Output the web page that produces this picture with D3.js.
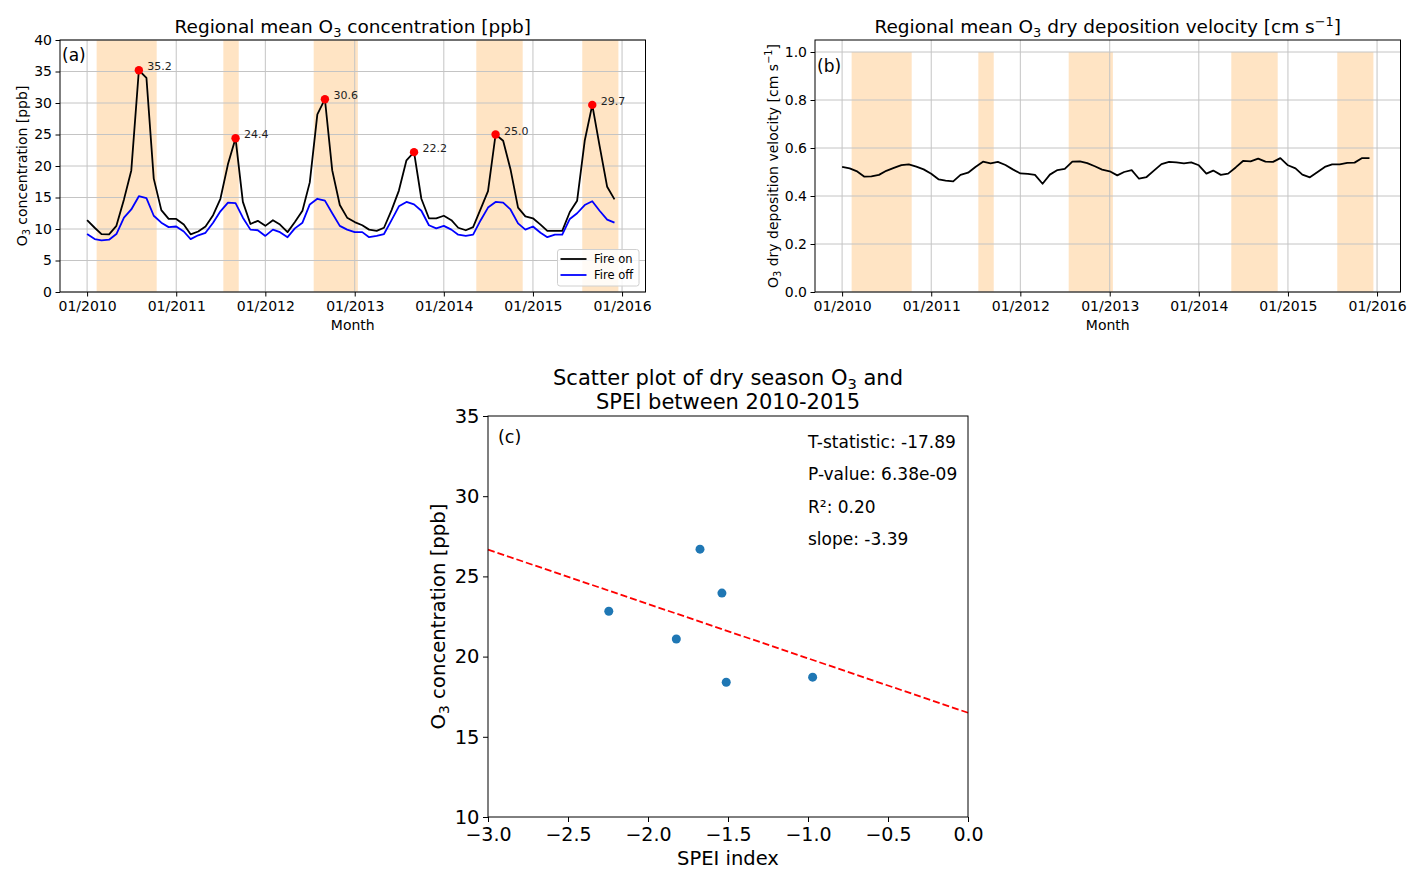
<!DOCTYPE html>
<html>
<head>
<meta charset="utf-8">
<script src="https://cdnjs.cloudflare.com/ajax/libs/d3/7.8.5/d3.min.js"></script>
<style>
  body { margin: 0; background: #fff; }
  svg { display: block; font-family: "DejaVu Sans", sans-serif; }
</style>
</head>
<body>
<svg id="fig" width="1422" height="881"></svg>
<script>
// ------------------------------------------
// data
// ------------------------------------------
const months = d3.timeMonth.range(new Date(2010, 0, 1), new Date(2016, 0, 1));
const yearTicks = d3.timeYear.range(new Date(2010, 0, 1), new Date(2016, 0, 2));

// regional mean O3, fire on / fire off [ppb]
const fireOn = [
  11.4, 10.2, 9.2, 9.15, 10.5, 14.7, 19.3, 35.2, 34.0, 18.0, 13.0, 11.6,
  11.6, 10.7, 9.15, 9.6, 10.4, 12.2, 14.8, 20.3, 24.4, 14.3, 10.8, 11.3,
  10.5, 11.4, 10.7, 9.5, 11.1, 12.9, 17.4, 28.2, 30.6, 19.3, 13.8, 11.8,
  11.1, 10.6, 9.9, 9.7, 10.2, 13.0, 16.1, 20.9, 22.2, 14.8, 11.7, 11.7,
  12.1, 11.4, 10.2, 9.8, 10.3, 13.2, 16.0, 25.0, 24.0, 19.5, 13.4, 12.0,
  11.7, 10.7, 9.7, 9.7, 9.7, 12.7, 14.5, 24.0, 29.7, 23.2, 16.7, 14.7
];
const fireOff = [
  9.2, 8.4, 8.2, 8.3, 9.2, 11.8, 13.1, 15.2, 14.9, 12.1, 11.0, 10.3,
  10.4, 9.6, 8.4, 9.0, 9.4, 11.0, 12.8, 14.2, 14.1, 11.8, 9.9, 9.8,
  8.9, 9.9, 9.5, 8.7, 10.1, 11.0, 13.9, 14.8, 14.5, 12.5, 10.5, 9.9,
  9.5, 9.5, 8.7, 8.9, 9.2, 11.4, 13.6, 14.3, 13.9, 12.9, 10.6, 10.1,
  10.5, 9.9, 9.1, 8.9, 9.1, 11.4, 13.4, 14.3, 14.2, 13.1, 10.9, 9.9,
  10.4, 9.4, 8.7, 9.1, 9.1, 11.6, 12.5, 13.8, 14.4, 12.9, 11.5, 11.0
];
// regional mean O3 dry deposition velocity [cm s-1]
const dryDep = [
  0.521, 0.515, 0.504, 0.481, 0.482, 0.488, 0.505, 0.517, 0.529, 0.532, 0.522, 0.511,
  0.493, 0.469, 0.464, 0.461, 0.488, 0.497, 0.521, 0.543, 0.536, 0.542, 0.529, 0.511,
  0.494, 0.492, 0.488, 0.451, 0.489, 0.508, 0.513, 0.543, 0.544, 0.537, 0.524, 0.510,
  0.503, 0.486, 0.500, 0.508, 0.472, 0.479, 0.506, 0.533, 0.542, 0.540, 0.536, 0.540,
  0.528, 0.493, 0.506, 0.488, 0.493, 0.519, 0.546, 0.544, 0.556, 0.543, 0.542, 0.558,
  0.528, 0.515, 0.489, 0.478, 0.499, 0.521, 0.532, 0.532, 0.538, 0.539, 0.558, 0.558
];
// yearly peaks of the fire-on curve
const peakIdx = [7, 20, 32, 44, 55, 68];
const peakVals = [35.2, 24.4, 30.6, 22.2, 25.0, 29.7];

// dry season / fire season spans
const drySpans = [
  ["2010-02-09", "2010-10-13"],
  ["2011-07-13", "2011-09-14"],
  ["2012-07-17", "2013-01-14"],
  ["2014-05-14", "2014-11-20"],
  ["2015-07-22", "2015-12-17"]
];

// scatter: dry season O3 vs SPEI
const speiVals = [-2.245, -1.823, -1.675, -1.538, -1.511, -0.971];
const o3DrySeason = [22.83, 21.1, 26.7, 23.96, 18.4, 18.72];
const fitX = [-3.0, 0.0];
const fitY = [26.67, 16.5];
const statLines = ["T-statistic: -17.89", "P-value: 6.38e-09", "R²: 0.20", "slope: -3.39"];

const o3Ticks = [0, 5, 10, 15, 20, 25, 30, 35, 40];
const depTicks = [0, 0.2, 0.4, 0.6, 0.8, 1.0];
const speiTicks = [-3.0, -2.5, -2.0, -1.5, -1.0, -0.5, 0.0];
const scatterTicks = [10, 15, 20, 25, 30, 35];

// ------------------------------------------
const parseDay = d3.timeParse("%Y-%m-%d");
const svg = d3.select("#fig");
svg.append("rect").attr("width", 1422).attr("height", 881).attr("fill", "#fff");

const xDomain = [parseDay("2009-09-12"), parseDay("2016-04-06")];

// text with sub / superscripts (matplotlib mathtext look-alike)
function richText(sel, parts, size) {
  parts.forEach(([t, k]) => {
    const ts = sel.append("tspan").text(t);
    if (k === "sub") ts.attr("font-size", size * 0.7).attr("baseline-shift", (-size * 0.2) + "px");
    if (k === "sup") ts.attr("font-size", size * 0.7).attr("baseline-shift", (size * 0.4) + "px");
  });
  return sel;
}

function styleAxis(sel, size) {
  sel.select(".domain").remove();
  sel.selectAll(".tick line").attr("stroke", "#000").attr("stroke-width", 1);
  sel.selectAll(".tick text").attr("font-size", size).attr("fill", "#000")
    .attr("font-family", "DejaVu Sans, sans-serif");
}

function timePanel(box, yDomain, yTicks, yFmt, spanTop) {
  const g = svg.append("g").attr("transform", `translate(${box.x},${box.y})`);
  const x = d3.scaleTime().domain(xDomain).range([0, box.w]);
  const y = d3.scaleLinear().domain(yDomain).range([box.h, 0]);

  // shaded dry seasons
  g.append("g").selectAll("rect").data(drySpans).join("rect")
    .attr("x", d => x(parseDay(d[0])))
    .attr("width", d => x(parseDay(d[1])) - x(parseDay(d[0])))
    .attr("y", y(spanTop))
    .attr("height", y(0) - y(spanTop))
    .attr("fill", "#ffe4c4");

  // grid
  const grid = g.append("g").attr("stroke", "#c4c4c4").attr("stroke-width", 1);
  grid.selectAll("line.h").data(yTicks).join("line").attr("class", "h")
    .attr("x1", 0).attr("x2", box.w).attr("y1", d => y(d)).attr("y2", d => y(d));
  grid.selectAll("line.v").data(yearTicks).join("line").attr("class", "v")
    .attr("y1", 0).attr("y2", box.h).attr("x1", d => x(d)).attr("x2", d => x(d));

  g.append("g").attr("transform", `translate(0,${box.h})`)
    .call(d3.axisBottom(x).tickValues(yearTicks).tickFormat(d3.timeFormat("%m/%Y"))
      .tickSize(4.5).tickPadding(5))
    .call(styleAxis, 14);
  g.append("g")
    .call(d3.axisLeft(y).tickValues(yTicks).tickFormat(yFmt).tickSize(4.5).tickPadding(3.5))
    .call(styleAxis, 14);

  // x label
  g.append("text").attr("x", box.w / 2).attr("y", box.h + 38)
    .attr("text-anchor", "middle").attr("font-size", 14).text("Month");

  return { g, x, y };
}

function frame(g, w, h) {
  g.append("rect").attr("width", w).attr("height", h)
    .attr("fill", "none").attr("stroke", "#000").attr("stroke-width", 1);
}

// ------------------------------------------
// (a) O3 concentration
// ------------------------------------------
const boxA = { x: 60, y: 40, w: 585.5, h: 252 };
const A = timePanel(boxA, [0, 40], o3Ticks, d3.format("d"), 40);

const lineA = d3.line().x((d, i) => A.x(months[i])).y(d => A.y(d));
A.g.append("path").datum(fireOn).attr("d", lineA)
  .attr("fill", "none").attr("stroke", "#000").attr("stroke-width", 1.8).attr("stroke-linejoin", "round");
A.g.append("path").datum(fireOff).attr("d", lineA)
  .attr("fill", "none").attr("stroke", "#0000ff").attr("stroke-width", 1.8).attr("stroke-linejoin", "round");

A.g.append("g").selectAll("circle").data(peakIdx).join("circle")
  .attr("cx", d => A.x(months[d])).attr("cy", (d, i) => A.y(peakVals[i]))
  .attr("r", 4.2).attr("fill", "#ff0000");
A.g.append("g").selectAll("text").data(peakIdx).join("text")
  .attr("x", d => A.x(months[d]) + 8.5).attr("y", (d, i) => A.y(peakVals[i]))
  .attr("font-size", 11).attr("fill", "#222")
  .text((d, i) => d3.format(".1f")(peakVals[i]));

frame(A.g, boxA.w, boxA.h);
A.g.append("text").attr("x", 2).attr("y", 21).attr("font-size", 17).text("(a)");

// legend
const leg = A.g.append("g").attr("transform", "translate(497.5,209.5)");
leg.append("rect").attr("width", 81.5).attr("height", 36.5).attr("rx", 2.5)
  .attr("fill", "#fff").attr("fill-opacity", 0.85).attr("stroke", "#d0d0d0");
[["Fire on", "#000"], ["Fire off", "#0000ff"]].forEach(([lab, col], i) => {
  leg.append("line").attr("x1", 3).attr("x2", 29).attr("y1", 9.5 + i * 16).attr("y2", 9.5 + i * 16)
    .attr("stroke", col).attr("stroke-width", 1.8);
  leg.append("text").attr("x", 36.5).attr("y", 13.5 + i * 16).attr("font-size", 11.5).text(lab);
});

svg.append("text").attr("x", boxA.x + boxA.w / 2).attr("y", 33)
  .attr("text-anchor", "middle").attr("font-size", 18.5)
  .call(richText, [["Regional mean O"], ["3", "sub"], [" concentration [ppb]"]], 18.5);
svg.append("text").attr("transform", `translate(27,${boxA.y + boxA.h / 2}) rotate(-90)`)
  .attr("text-anchor", "middle").attr("font-size", 14)
  .call(richText, [["O"], ["3", "sub"], [" concentration [ppb]"]], 14);

// ------------------------------------------
// (b) dry deposition velocity
// ------------------------------------------
const boxB = { x: 815, y: 40, w: 585.5, h: 252 };
const B = timePanel(boxB, [0, 1.05], depTicks, d3.format(".1f"), 1.0);
const lineB = d3.line().x((d, i) => B.x(months[i])).y(d => B.y(d));
B.g.append("path").datum(dryDep).attr("d", lineB)
  .attr("fill", "none").attr("stroke", "#000").attr("stroke-width", 1.8).attr("stroke-linejoin", "round");
frame(B.g, boxB.w, boxB.h);
B.g.append("text").attr("x", 2).attr("y", 32).attr("font-size", 17).text("(b)");

svg.append("text").attr("x", boxB.x + boxB.w / 2).attr("y", 33)
  .attr("text-anchor", "middle").attr("font-size", 18.5)
  .call(richText, [["Regional mean O"], ["3", "sub"], [" dry deposition velocity [cm s"], ["−1", "sup"], ["]"]], 18.5);
svg.append("text").attr("transform", `translate(778,${boxB.y + boxB.h / 2}) rotate(-90)`)
  .attr("text-anchor", "middle").attr("font-size", 14)
  .call(richText, [["O"], ["3", "sub"], [" dry deposition velocity [cm s"], ["−1", "sup"], ["]"]], 14);

// ------------------------------------------
// (c) scatter
// ------------------------------------------
const boxC = { x: 488, y: 416, w: 480, h: 401 };
const gC = svg.append("g").attr("transform", `translate(${boxC.x},${boxC.y})`);
const xC = d3.scaleLinear().domain([-3, 0]).range([0, boxC.w]);
const yC = d3.scaleLinear().domain([10, 35]).range([boxC.h, 0]);

gC.append("g").attr("transform", `translate(0,${boxC.h})`)
  .call(d3.axisBottom(xC).tickValues(speiTicks).tickFormat(d3.format(".1f")).tickSize(5).tickPadding(5.5))
  .call(styleAxis, 19);
gC.append("g")
  .call(d3.axisLeft(yC).tickValues(scatterTicks).tickFormat(d3.format("d")).tickSize(5).tickPadding(3.5))
  .call(styleAxis, 19.5);

gC.append("g").selectAll("circle").data(speiVals).join("circle")
  .attr("cx", d => xC(d)).attr("cy", (d, i) => yC(o3DrySeason[i]))
  .attr("r", 4.5).attr("fill", "#1f77b4");

gC.append("path").datum(fitX)
  .attr("d", d3.line().x(d => xC(d)).y((d, i) => yC(fitY[i])))
  .attr("fill", "none").attr("stroke", "#ff0000").attr("stroke-width", 1.8)
  .attr("stroke-dasharray", "7,3");

frame(gC, boxC.w, boxC.h);
gC.append("text").attr("x", 10).attr("y", 26.5).attr("font-size", 17.5).text("(c)");
gC.append("g").selectAll("text").data(statLines).join("text")
  .attr("x", 320).attr("y", (d, i) => 32 + i * 32.3)
  .attr("font-size", 17).text(d => d);

svg.append("text").attr("x", boxC.x + boxC.w / 2).attr("y", 384.5)
  .attr("text-anchor", "middle").attr("font-size", 21)
  .call(richText, [["Scatter plot of dry season O"], ["3", "sub"], [" and"]], 21);
svg.append("text").attr("x", boxC.x + boxC.w / 2).attr("y", 409)
  .attr("text-anchor", "middle").attr("font-size", 21).text("SPEI between 2010-2015");
svg.append("text").attr("x", boxC.x + boxC.w / 2).attr("y", 865)
  .attr("text-anchor", "middle").attr("font-size", 19.5).text("SPEI index");
svg.append("text").attr("transform", `translate(445,${boxC.y + boxC.h / 2}) rotate(-90)`)
  .attr("text-anchor", "middle").attr("font-size", 19.7)
  .call(richText, [["O"], ["3", "sub"], [" concentration [ppb]"]], 19.7);
</script>
</body>
</html>
